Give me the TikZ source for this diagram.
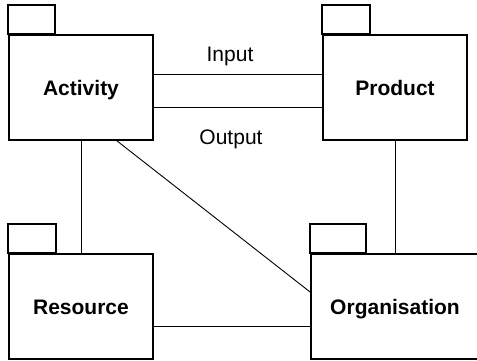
\documentclass[tikz,border=0pt]{standalone}
\usepackage{fontspec}
\setmainfont{Liberation Sans}
\begin{document}
\begin{tikzpicture}[x=1pt,y=-1pt,
  pkg/.style={draw,line width=1.8pt,rectangle,inner sep=0pt,
    minimum height=105pt,font=\fontsize{21}{25}\selectfont\bfseries,
    text height=15pt,text depth=0pt},
  tabbox/.style={draw,line width=1.8pt},
  conn/.style={draw,line width=0.9pt},
  lbl/.style={font=\fontsize{21}{25}\selectfont,anchor=base,inner sep=0pt}]
\clip (0,0) rectangle (477,360);
\node[pkg,minimum width=144pt] (act) at (81,87.5) {Activity};
\node[pkg,minimum width=144pt] (prod) at (395,87.5) {Product};
\node[pkg,minimum width=144pt] (res) at (81,306.5) {Resource};
\node[pkg,minimum width=168pt] (org) at (395,306.5) {Organisation};
\draw[tabbox] (act.north west) rectangle ++(47,-29);
\draw[tabbox] (prod.north west) rectangle ++(48,-29);
\draw[tabbox] (res.north west) rectangle ++(48,-29);
\draw[tabbox] (org.north west) rectangle ++(56,-29);
\coordinate (inA) at ([yshift=13.5pt]act.east);
\coordinate (outA) at ([yshift=-19.5pt]act.east);
\draw[conn] (inA) -- (inA -| prod.west);
\draw[conn] (outA) -- (outA -| prod.west);
\draw[conn] (act.south) -- (res.north);
\draw[conn] (prod.south) -- (org.north);
\coordinate (resR) at ([yshift=-19.5pt]res.east);
\draw[conn] (resR) -- (resR -| org.west);
\draw[conn] ([xshift=36pt]act.south) -- ([yshift=14.5pt]org.west);
\node[lbl] (input) at (230,61) {Input};
\node[lbl] (output) at (231,144) {Output};
\end{tikzpicture}
\end{document}
